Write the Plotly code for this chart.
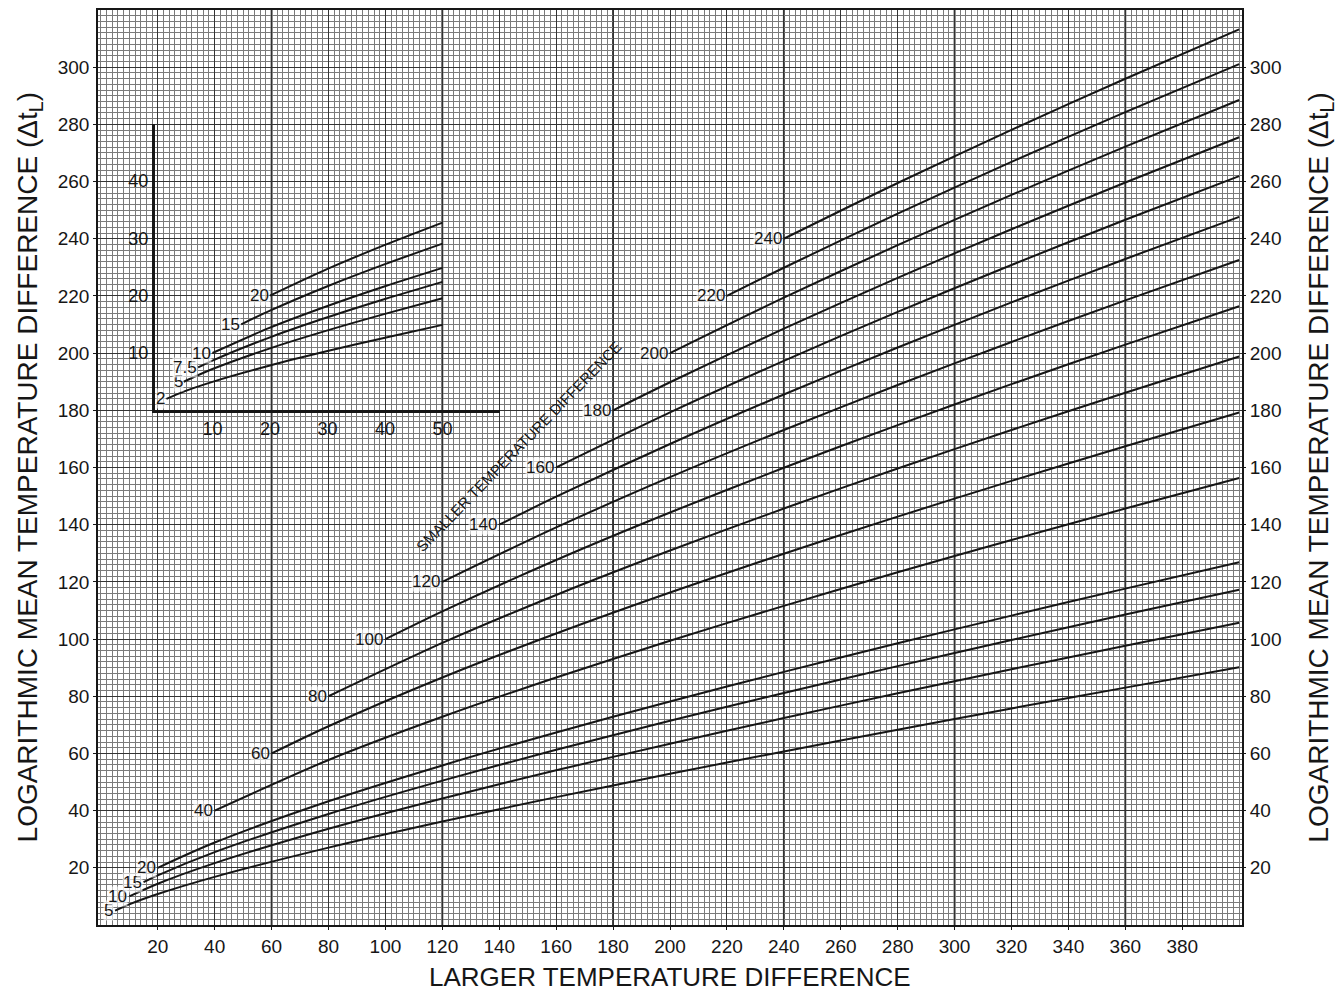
import plotly.graph_objects as go

# ---------------- data ----------------
# main chart: smaller temperature difference (curve label) -> points (larger diff, LMTD)
S_MAIN = [5, 10, 15, 20, 40, 60, 80, 100, 120, 140, 160, 180, 200, 220, 240]

X_5 = [5, 10, 20, 40, 80, 120, 160, 200, 240, 280, 320, 360, 400]
Y_5 = [5, 7.21, 10.82, 16.83, 27.05, 36.19, 44.72, 52.86, 60.70, 68.32, 75.74, 83.01, 90.14]
X_10 = [10, 20, 40, 80, 120, 160, 200, 240, 280, 320, 360, 400]
Y_10 = [10, 14.43, 21.64, 33.66, 44.27, 54.10, 63.42, 72.37, 81.03, 89.45, 97.67, 105.72]
X_15 = [15, 20, 40, 80, 120, 160, 200, 240, 280, 320, 360, 400]
Y_15 = [15, 17.38, 25.49, 38.83, 50.49, 61.26, 71.42, 81.15, 90.54, 99.67, 108.56, 117.26]
X_20 = [20, 40, 80, 120, 160, 200, 240, 280, 320, 360, 400]
Y_20 = [20, 28.85, 43.28, 55.81, 67.33, 78.17, 88.53, 98.52, 108.20, 117.63, 126.85]
X_40 = [40, 80, 120, 160, 200, 240, 280, 320, 360, 400]
Y_40 = [40, 57.71, 72.82, 86.56, 99.41, 111.62, 123.34, 134.65, 145.64, 156.35]
X_60 = [60, 80, 120, 160, 200, 240, 280, 320, 360, 400]
Y_60 = [60, 69.52, 86.56, 101.95, 116.28, 129.84, 142.82, 155.32, 167.43, 179.22]
X_80 = [80, 120, 160, 200, 240, 280, 320, 360, 400]
Y_80 = [80, 98.65, 115.42, 130.96, 145.64, 159.65, 173.12, 186.16, 198.83]
X_100 = [100, 120, 160, 200, 240, 280, 320, 360, 400]
Y_100 = [100, 109.70, 127.66, 144.27, 159.91, 174.82, 189.14, 202.98, 216.40]
X_120 = [120, 160, 200, 240, 280, 320, 360, 400]
Y_120 = [120, 139.04, 156.61, 173.12, 188.84, 203.91, 218.46, 232.56]
X_140 = [140, 160, 200, 240, 280, 320, 360, 400]
Y_140 = [140, 149.78, 168.22, 185.53, 201.98, 217.74, 232.94, 247.66]
X_160 = [160, 200, 240, 280, 320, 360, 400]
Y_160 = [160, 179.26, 197.30, 214.43, 230.83, 246.63, 261.92]
X_180 = [180, 200, 240, 280, 320, 360, 400]
Y_180 = [180, 189.82, 208.56, 226.33, 243.33, 259.69, 275.51]
X_200 = [200, 240, 280, 320, 360, 400]
Y_200 = [200, 219.39, 237.76, 255.32, 272.21, 288.54]
X_220 = [220, 240, 280, 320, 360, 400]
Y_220 = [220, 229.86, 248.80, 266.88, 284.28, 301.09]
X_240 = [240, 280, 320, 360, 400]
Y_240 = [240, 259.49, 278.08, 295.96, 313.22]

MAIN_X = [X_5, X_10, X_15, X_20, X_40, X_60, X_80, X_100, X_120, X_140, X_160, X_180, X_200, X_220, X_240]
MAIN_Y = [Y_5, Y_10, Y_15, Y_20, Y_40, Y_60, Y_80, Y_100, Y_120, Y_140, Y_160, Y_180, Y_200, Y_220, Y_240]

# inset chart (small differences)
S_INSET = ["2", "5", "7.5", "10", "15", "20"]
IX_2 = [2, 5, 10, 20, 30, 40, 50]
IY_2 = [2, 3.27, 4.97, 7.82, 10.34, 12.68, 14.91]
IX_5 = [5, 10, 20, 30, 40, 50]
IY_5 = [5, 7.21, 10.82, 13.95, 16.83, 19.54]
IX_75 = [7.5, 10, 20, 30, 40, 50]
IY_75 = [7.5, 8.69, 12.74, 16.23, 19.41, 22.40]
IX_10 = [10, 20, 30, 40, 50]
IY_10 = [10, 14.43, 18.20, 21.64, 24.85]
IX_15 = [15, 20, 30, 40, 50]
IY_15 = [15, 17.38, 21.64, 25.49, 29.07]
IX_20 = [20, 30, 40, 50]
IY_20 = [20, 24.66, 28.85, 32.74]
INSET_X = [IX_2, IX_5, IX_75, IX_10, IX_15, IX_20]
INSET_Y = [IY_2, IY_5, IY_75, IY_10, IY_15, IY_20]

X_TICKS = [20, 40, 60, 80, 100, 120, 140, 160, 180, 200, 220, 240, 260, 280, 300, 320, 340, 360, 380]
Y_TICKS = [20, 40, 60, 80, 100, 120, 140, 160, 180, 200, 220, 240, 260, 280, 300]
HEAVY_X = [60, 120, 180, 240, 300, 360]
INSET_X_TICKS = [10, 20, 30, 40, 50]
INSET_Y_TICKS = [10, 20, 30, 40]

TITLE_Y = "LOGARITHMIC MEAN TEMPERATURE DIFFERENCE (Δt<sub>L</sub>)"
TITLE_X = "LARGER TEMPERATURE DIFFERENCE"
NOTE = "SMALLER TEMPERATURE DIFFERENCE"

# ---------------- figure ----------------
FONT = "Liberation Sans, Arial, Helvetica, sans-serif"
INK = "#161616"

fig = go.Figure()

for xs, ys in zip(MAIN_X, MAIN_Y):
    fig.add_trace(go.Scatter(x=xs, y=ys, mode="lines", line=dict(color=INK, width=2, shape="spline", smoothing=0.8),
                             showlegend=False, hoverinfo="skip", xaxis="x", yaxis="y"))

# invisible helper so the right-hand axis is drawn
fig.add_trace(go.Scatter(x=X_240[:1], y=Y_240[:1], mode="markers", marker=dict(opacity=0),
                         showlegend=False, hoverinfo="skip", xaxis="x", yaxis="y2"))

for xs, ys in zip(INSET_X, INSET_Y):
    fig.add_trace(go.Scatter(x=xs, y=ys, mode="lines", line=dict(color=INK, width=2, shape="spline", smoothing=0.8),
                             showlegend=False, hoverinfo="skip", xaxis="x3", yaxis="y3"))

annotations = []
for s, xs, ys in zip(S_MAIN, MAIN_X, MAIN_Y):
    annotations.append(dict(x=xs[0], y=ys[0], xref="x", yref="y", text=str(s), showarrow=False,
                            xanchor="right", yanchor="middle", xshift=-1,
                            font=dict(family=FONT, size=17, color=INK),
                            bgcolor="rgba(255,255,255,0.6)", borderpad=0))
for s, xs, ys in zip(S_INSET, INSET_X, INSET_Y):
    annotations.append(dict(x=xs[0], y=ys[0], xref="x3", yref="y3", text=s, showarrow=False,
                            xanchor="right", yanchor="middle", xshift=0,
                            font=dict(family=FONT, size=17, color=INK),
                            bgcolor="rgba(255,255,255,0.6)", borderpad=0))

annotations.append(dict(x=146.9, y=167.2, xref="x", yref="y", text=NOTE, showarrow=False, textangle=-45.7,
                        font=dict(family=FONT, size=15, color=INK)))
annotations.append(dict(x=0.5, y=-0.0566, xref="paper", yref="paper", text=TITLE_X, showarrow=False,
                        xanchor="center", yanchor="middle", font=dict(family=FONT, size=26, color=INK)))
annotations.append(dict(x=-0.0595, y=0.5, xref="paper", yref="paper", text=TITLE_Y, showarrow=False,
                        textangle=-90, xanchor="center", yanchor="middle", font=dict(family=FONT, size=28, color=INK)))
annotations.append(dict(x=1.0683, y=0.5, xref="paper", yref="paper", text=TITLE_Y, showarrow=False,
                        textangle=-90, xanchor="center", yanchor="middle", font=dict(family=FONT, size=28, color=INK)))

shapes = []
for v in HEAVY_X:
    shapes.append(dict(type="line", xref="x", yref="paper", x0=v, x1=v, y0=0, y1=1,
                       line=dict(color="#1a1a1a", width=1.8), layer="between"))

tickfont = dict(family=FONT, size=19, color=INK)

fig.update_layout(
    width=1343, height=992,
    margin=dict(l=98, r=101, t=8, b=67),
    paper_bgcolor="white", plot_bgcolor="rgba(0,0,0,0)",
    annotations=annotations, shapes=shapes,
    xaxis=dict(domain=[0, 1], range=[-1, 401], tickmode="array", tickvals=X_TICKS, ticks="outside", ticklen=3,
               tickcolor=INK, tickfont=tickfont, showgrid=True, gridcolor="#333333", gridwidth=1.1,
               zeroline=False, showline=True, linecolor=INK, linewidth=1.6, mirror=True,
               minor=dict(tickmode="linear", tick0=0, dtick=2, showgrid=True, gridcolor="#7a7a7a", gridwidth=0.8, ticks=""),
               anchor="y"),
    yaxis=dict(domain=[0, 1], range=[0, 320], tickmode="array", tickvals=Y_TICKS, ticks="outside", ticklen=3,
               tickcolor=INK, tickfont=tickfont, showgrid=True, gridcolor="#333333", gridwidth=1.1,
               zeroline=False, showline=True, linecolor=INK, linewidth=1.6, mirror=True,
               minor=dict(tickmode="linear", tick0=0, dtick=2, showgrid=True, gridcolor="#7a7a7a", gridwidth=0.8, ticks=""),
               anchor="x"),
    yaxis2=dict(overlaying="y", side="right", range=[0, 320], tickmode="array", tickvals=Y_TICKS,
                ticks="outside", ticklen=3, tickcolor=INK, tickfont=tickfont, showgrid=False, zeroline=False,
                showline=False, anchor="x"),
    xaxis3=dict(domain=[0.0498, 0.3514], range=[0, 60], anchor="y3", tickmode="array", tickvals=INSET_X_TICKS,
                ticks="", tickfont=dict(family=FONT, size=18, color=INK), showgrid=False, zeroline=False,
                showline=True, linecolor=INK, linewidth=3),
    yaxis3=dict(domain=[0.5624, 0.8759], range=[0, 50], anchor="x3", tickmode="array", tickvals=INSET_Y_TICKS,
                ticks="", tickfont=dict(family=FONT, size=18, color=INK), showgrid=False, zeroline=False,
                showline=True, linecolor=INK, linewidth=3),
)

fig.write_html("out.html", config={"displayModeBar": False},
               post_script="document.body.style.margin='0';document.body.style.overflow='hidden';")
